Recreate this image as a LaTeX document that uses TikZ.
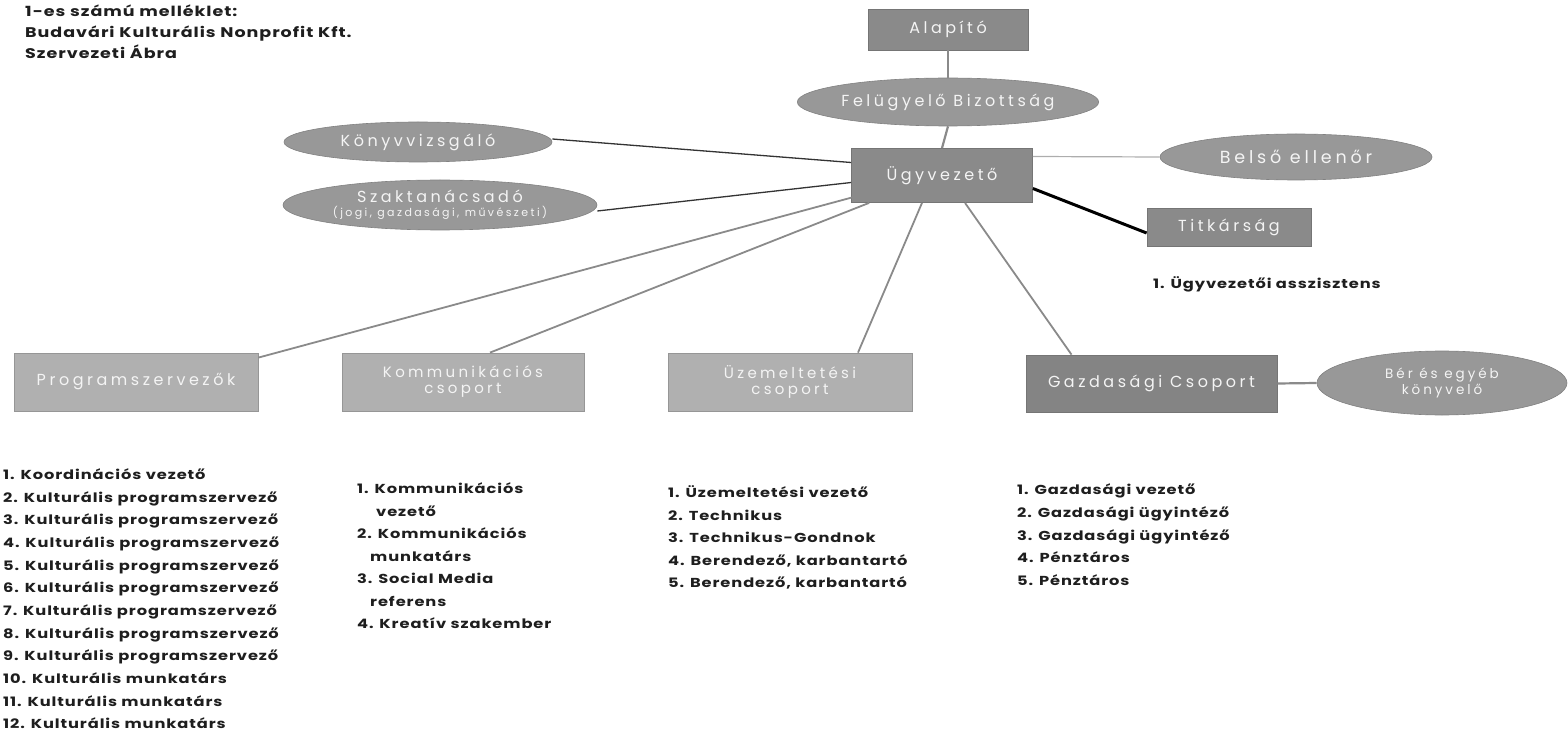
\documentclass[tikz,border=0pt]{standalone}
\usepackage{fontspec}
\setmainfont{Poppins}
\newfontfamily\boxfont[LetterSpace=22]{Poppins}
\newfontfamily\listfont[LetterSpace=7,FakeStretch=1.25]{Poppins}
\usetikzlibrary{shapes.geometric,calc}
\definecolor{boxdark}{HTML}{8A8A8A}
\definecolor{boxlight}{HTML}{B0B0B0}
\definecolor{ellfill}{HTML}{989898}
\definecolor{gazdfill}{HTML}{848484}
\definecolor{labeltxt}{HTML}{F4F4F4}
\definecolor{linegray}{HTML}{8A8A8A}
\definecolor{listtxt}{HTML}{1E1E1E}
\begin{document}
\begin{tikzpicture}[x=1pt,y=-1pt,
  basebox/.style={rectangle, inner sep=0pt, text=labeltxt, align=center,
    font=\boxfont\fontsize{16}{16}\selectfont},
  darkbox/.style={basebox, fill=boxdark, draw=boxdark!85!black, line width=0.8pt},
  lightbox/.style={basebox, fill=boxlight, draw=boxlight!85!black, line width=0.8pt},
  ellnode/.style={ellipse, inner sep=0pt, fill=ellfill, draw=ellfill!85!black, line width=0.6pt,
    text=labeltxt, align=center, font=\boxfont\fontsize{16}{16}\selectfont},
  listline/.style={anchor=base west, inner sep=0pt, text=listtxt,
    font=\listfont\bfseries\fontsize{13}{13}\selectfont},
  titleline/.style={listline, font=\listfont\bfseries\fontsize{14}{14}\selectfont},
  grayconn/.style={draw=linegray, line width=2.2pt},
  thinconn/.style={draw=linegray!70, line width=1.2pt},
  darkconn/.style={draw=black!80, line width=1.3pt},
  blackconn/.style={draw=black, line width=3pt}
]
\useasboundingbox (0,0) rectangle (1568,735);

% title
\node[titleline] (t1) at (25,17) {1-es számú melléklet:};
\node[titleline] (t2) at (25,38) {Budavári Kulturális Nonprofit Kft.};
\node[titleline] (t3) at (25,59) {Szervezeti Ábra};

% nodes
\node[darkbox, minimum width=160pt, minimum height=41pt] (alap) at (948,29.5) {Alapító};
\node[ellnode, minimum width=282pt, minimum height=48pt] (felu) at (948,102) {Felügyelő Bizottság};
\node[darkbox, minimum width=181pt, minimum height=54pt] (ugy) at (942,175.5) {Ügyvezető};
\node[ellnode, minimum width=272pt, minimum height=46pt, font=\boxfont\fontsize{17.5}{17.5}\selectfont] (belso) at (1296,157) {Belső ellenőr};
\node[darkbox, minimum width=164pt, minimum height=38pt] (titk) at (1229,227) {Titkárság};
\node[ellnode, minimum width=268pt, minimum height=40pt] (konyv) at (418,142) {Könyvvizsgáló};
\node[ellnode, minimum width=314pt, minimum height=50pt] (szak) at (440,205)
  {Szaktanácsadó\\[-2pt]{\fontsize{11}{11}\selectfont(jogi, gazdasági, művészeti)}};
\node[lightbox, minimum width=244pt, minimum height=58pt] (prog) at (136,382) {Programszervezők};
\node[lightbox, minimum width=242pt, minimum height=58pt] (komm) at (463,382)
  {\fontsize{15}{13}\selectfont Kommunikációs\\\fontsize{15}{13}\selectfont csoport};
\node[lightbox, minimum width=244pt, minimum height=58pt] (uzem) at (790,382)
  {\fontsize{15}{13}\selectfont Üzemeltetési\\\fontsize{15}{13}\selectfont csoport};
\node[darkbox, fill=gazdfill, minimum width=251pt, minimum height=57pt] (gazd) at (1151.5,383.5) {Gazdasági Csoport};
\node[ellnode, minimum width=250pt, minimum height=64pt] (ber) at (1442,383)
  {\fontsize{13.5}{12}\selectfont Bér és egyéb\\\fontsize{13.5}{12}\selectfont könyvelő};

% connectors
\path[grayconn] (alap.south) -- (felu.north);
\path[grayconn] (felu.south) -- (ugy.north);
\path[thinconn] ($(ugy.east)+(0,-19)$) -- (belso.west);
\path[blackconn] ($(ugy.east)+(0,13)$) -- ($(titk.west)+(0,6)$);
\path[darkconn] ($(konyv.east)+(0,-3)$) -- ($(ugy.west)+(0,-13)$);
\path[darkconn] ($(szak.east)+(0,6)$) -- ($(ugy.west)+(0,7)$);
\path[grayconn, line width=1.8pt] ($(ugy.south west)+(3,-6)$) -- ($(prog.north east)+(0,5)$);
\path[grayconn, line width=1.8pt] ($(ugy.south west)+(18,0)$) -- ($(komm.north)+(27,0)$);
\path[grayconn, line width=1.8pt] ($(ugy.south)+(-20,0)$) -- ($(uzem.north)+(68,0)$);
\path[grayconn, line width=1.8pt] ($(ugy.south)+(23,0)$) -- ($(gazd.north)+(-80,0)$);
\path[grayconn] (gazd.east) -- (ber.west);

% assistant
\node[listline] (asszt) at (1153,288) {1. Ügyvezetői asszisztens};

% Programszervezők list
\foreach \txt [count=\i] in {1. Koordinációs vezető,
  2. Kulturális programszervező, 3. Kulturális programszervező,
  4. Kulturális programszervező, 5. Kulturális programszervező,
  6. Kulturális programszervező, 7. Kulturális programszervező,
  8. Kulturális programszervező, 9. Kulturális programszervező,
  10. Kulturális munkatárs, 11. Kulturális munkatárs, 12. Kulturális munkatárs}
  \node[listline] (p\i) at (3,{479.5+(\i-1)*22.65}) {\txt};

% Kommunikációs list
\node[listline] (k1) at (357,493.5) {1. Kommunikációs};
\node[listline] (k2) at (376,516) {vezető};
\node[listline] (k3) at (357,538.5) {2. Kommunikációs};
\node[listline] (k4) at (370,561) {munkatárs};
\node[listline] (k5) at (357,583.5) {3. Social Media};
\node[listline] (k6) at (370,606) {referens};
\node[listline] (k7) at (357,628.5) {4. Kreatív szakember};

% Üzemeltetési list
\foreach \txt [count=\i] in {1. Üzemeltetési vezető, 2. Technikus,
  3. Technikus-Gondnok, {4. Berendező, karbantartó}, {5. Berendező, karbantartó}}
  \node[listline] (u\i) at (668,{497.5+(\i-1)*22.6}) {\txt};

% Gazdasági list
\foreach \txt [count=\i] in {1. Gazdasági vezető, 2. Gazdasági ügyintéző,
  3. Gazdasági ügyintéző, 4. Pénztáros, 5. Pénztáros}
  \node[listline] (g\i) at (1017,{494.5+(\i-1)*22.8}) {\txt};
\end{tikzpicture}
\end{document}
